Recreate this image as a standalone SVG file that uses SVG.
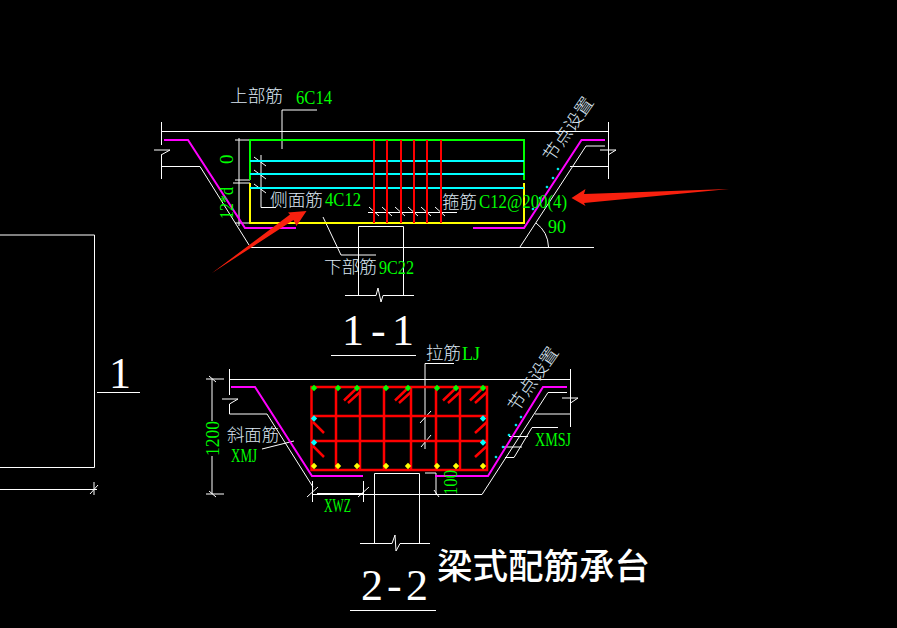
<svg xmlns="http://www.w3.org/2000/svg" width="897" height="628" viewBox="0 0 897 628">
<defs><style>
.w{fill:none;stroke:#fff;stroke-width:1}
.m{fill:none;stroke:#f0f;stroke-width:2}
.g{fill:none;stroke:#0f0;stroke-width:2}
.y{fill:none;stroke:#ff0;stroke-width:2}
.c{fill:none;stroke:#0ff;stroke-width:2}
.r{fill:none;stroke:#f00;stroke-width:2}
.r2{fill:none;stroke:#f00;stroke-width:2.500}
.cn{font-family:"Noto Sans CJK SC","Liberation Serif",serif;font-size:17.500px;fill:#dce8f4;font-weight:300}
.lb{font-family:"Liberation Serif",serif;font-size:19px;fill:#0f0}
.ti{font-family:"Liberation Serif",serif;font-size:44px;fill:#fff}
.big{font-family:"Noto Sans CJK SC",sans-serif;font-size:35.500px;fill:#fff;font-weight:500}
</style>
<path id="dot" d="M0-3.200 3.200 0 0 3.200-3.200 0Z"/>
<path id="sd" d="M0-1.600 1.600 0 0 1.600-1.600 0Z"/>
</defs>
<rect width="897" height="628" fill="#000"/>
<g id="left-part">
<path class="w" d="M-1 235H94.500V467.500H-1M0 489.500H97M94 482 94 495M90 494 98 485M97 392.500H140"/>
<text class="ti" x="109" y="388">1</text>
</g>
<g id="connectors">
<path class="w" d="M161 131.500H608M161.500 122V145M154 150 170 150 161 155 161.500 155V179M162 166.500H200L249 245M249 247.500H594"/>
<path class="w" d="M608.500 122V179M570 166.500H608.500M605 146H586L520 247M600 150 616 150 608 155M536 223Q548 232 548.500 247"/>
<path class="w" d="M282 110H317M282 110V149M323 217 341 255H376M261 155V207.500H276M368 212.500H457"/>
<path class="w" d="M239 138V226M235 140H250M235 180H250M233 183H250M235 223H250M254 157 266 166M254 170 266 179M254 184 266 193"/>
<path class="w" d="M369 207 379 216M382 207 392 216M395 207 405 216M408 207 418 216M421 207 431 216M435 207 445 216"/>
<path class="w" d="M358.500 295V226.500H403.500V295M345 295.500H376L378 288 381 302 383 295.500H414M331 355.500H416"/>
<path class="w" d="M229 379.500H570M229.500 369V395M222 399 238 399 229.500 404V414H267L313 487M313 494.500H482L548 392.500H567M570.500 369V427M535 414H570.500M562 398H578L570.500 403"/>
<path class="w" d="M206 379H224M212 379V421M212 456V494M206 494H224M209 376 216 382M209 491 216 497M312.500 481V502M363.500 481V502M307 497 318 487M358 497 369 487M317 493.500H363M425 473H436V495M434 490 439 497"/>
<path class="w" d="M425 449V363.500H454M420 423 431 411M421 447 431 435M262 449 294 441"/>
<path class="w" d="M532 427.500H558M532 427.500 514 457.500H505M509 436.500H528M503 447H522"/>
<path class="w" d="M374.500 543V473.500H419.500V543M360 543.500H392L395 535 396 551 400 543.500H430M350 610.500H436"/>
</g>
<g id="section-1-1">
<path class="m" d="M164 140H188L245 228H296M473 228H524L581.500 140H605"/>
<path class="g" d="M250 180V140H524V180"/>
<path class="y" d="M250 183V223H524V183"/>
<path class="c" d="M250 161H524M250 174H524M250 188H524"/>
<path class="r" d="M374 140V223M387 140V223M401 140V223M414 140V223M427 140V223M441 140V223"/>
<g fill="#0ff"><use href="#sd" x="558" y="169"/><use href="#sd" x="553" y="178"/><use href="#sd" x="547" y="187"/><use href="#sd" x="540" y="198"/><use href="#sd" x="533" y="209"/></g>
</g>
<g id="section-2-2">
<path class="m" d="M231 387H255L312 476H363M435 476H488L543 387H567"/>
<path class="r2" d="M311.500 387H487V470H311.500ZM336 387V470M360 387V470M384 387V470M411 387V470M436 387V470M460 387V470M311.500 416H487M311.500 441H487"/>
<path class="r2" d="M344 400.500 357 388M348 403 360 392M395 400.500 408 388M399 403 411 392M443 400.500 456 388M448 403 460 392M470 400.500 483 388M475 403 487 392M313 422 324 433M313 446 324 457M475 433 487 422M475 457 487 446"/>
<g fill="#0f0"><use href="#dot" x="314" y="388"/><use href="#dot" x="338" y="388"/><use href="#dot" x="357" y="388"/><use href="#dot" x="386" y="388"/><use href="#dot" x="408" y="388"/><use href="#dot" x="437" y="388"/><use href="#dot" x="456" y="388"/><use href="#dot" x="483" y="388"/></g>
<g fill="#ff0"><use href="#dot" x="314" y="466"/><use href="#dot" x="338" y="466"/><use href="#dot" x="357" y="466"/><use href="#dot" x="386" y="466"/><use href="#dot" x="408" y="466"/><use href="#dot" x="437" y="466"/><use href="#dot" x="456" y="466"/><use href="#dot" x="483" y="466"/></g>
<g fill="#0ff"><use href="#dot" x="314" y="418.500"/><use href="#dot" x="314" y="442.500"/><use href="#dot" x="483" y="418.500"/><use href="#dot" x="483" y="442.500"/><use href="#sd" x="521" y="417"/><use href="#sd" x="516" y="425"/><use href="#sd" x="509" y="435"/><use href="#sd" x="503" y="447"/><use href="#sd" x="496" y="457"/></g>
</g>
<g id="labels">
<text class="cn" x="230" y="102" textLength="53" lengthAdjust="spacingAndGlyphs">上部筋</text>
<text class="lb" x="296" y="104" textLength="36" lengthAdjust="spacingAndGlyphs">6C14</text>
<text class="cn" x="270" y="206" textLength="53" lengthAdjust="spacingAndGlyphs">侧面筋</text>
<text class="lb" x="325" y="206" textLength="36" lengthAdjust="spacingAndGlyphs">4C12</text>
<text class="cn" x="442" y="208" textLength="35" lengthAdjust="spacingAndGlyphs">箍筋</text>
<text class="lb" x="479" y="208" textLength="88" lengthAdjust="spacingAndGlyphs">C12@200(4)</text>
<text class="lb" x="548" y="233" textLength="18" lengthAdjust="spacingAndGlyphs">90</text>
<text class="cn" x="324" y="273" textLength="53" lengthAdjust="spacingAndGlyphs">下部筋</text>
<text class="lb" x="379" y="274" textLength="35" lengthAdjust="spacingAndGlyphs">9C22</text>
<text class="lb" transform="translate(233 164) rotate(-90)">0</text>
<text class="lb" transform="translate(233 219) rotate(-90)" textLength="32" lengthAdjust="spacingAndGlyphs">12*d</text>
<text class="cn" transform="translate(552 163) rotate(-55)" textLength="74" lengthAdjust="spacingAndGlyphs">节点设置</text>
<text class="ti" x="342 371 392" y="345">1-1</text>
<text class="cn" x="426" y="359" textLength="35" lengthAdjust="spacingAndGlyphs">拉筋</text>
<text class="lb" x="462" y="360" textLength="18" lengthAdjust="spacingAndGlyphs">LJ</text>
<text class="cn" transform="translate(517 413) rotate(-55)" textLength="74" lengthAdjust="spacingAndGlyphs">节点设置</text>
<text class="cn" x="227" y="441" textLength="52" lengthAdjust="spacingAndGlyphs">斜面筋</text>
<text class="lb" x="231" y="462" textLength="26" lengthAdjust="spacingAndGlyphs">XMJ</text>
<text class="lb" x="535" y="446" textLength="36" lengthAdjust="spacingAndGlyphs">XMSJ</text>
<text class="lb" transform="translate(219 456) rotate(-90)" textLength="35" lengthAdjust="spacingAndGlyphs">1200</text>
<text class="lb" transform="translate(457 495) rotate(-90)" textLength="25" lengthAdjust="spacingAndGlyphs">100</text>
<text class="lb" x="324" y="512" textLength="27" lengthAdjust="spacingAndGlyphs">XWZ</text>
<text class="ti" x="361 387 406" y="600">2-2</text>
<text class="big" x="437" y="579" textLength="213" lengthAdjust="spacingAndGlyphs">梁式配筋承台</text>
</g>
<g id="arrows" fill="#f8200e">
<path d="M212 273 290 214.500 288 212.500 306.500 211 296.500 226 293.500 220Z"/>
<path d="M571.500 198 585.500 189 584 194 729 189 584 203 585.500 206Z"/>
</g>
</svg>
